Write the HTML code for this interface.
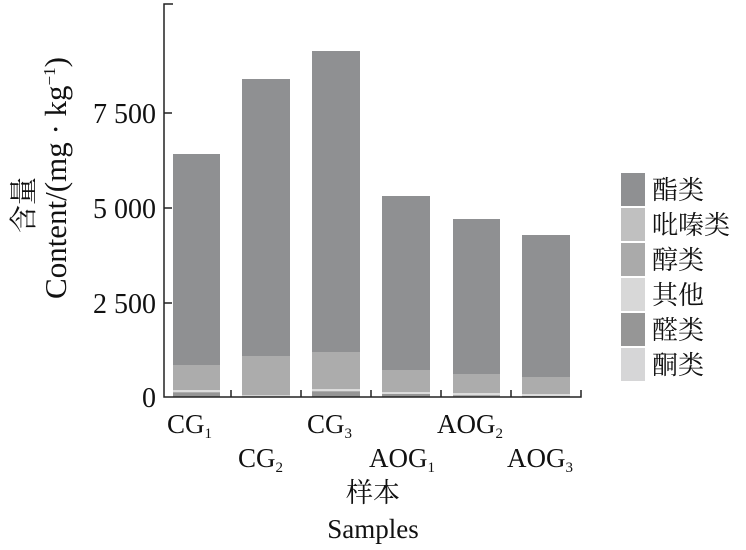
<!DOCTYPE html>
<html><head><meta charset="utf-8"><style>body{margin:0;background:#fff}svg{display:block}</style></head>
<body>
<svg width="746" height="550" xmlns="http://www.w3.org/2000/svg" font-family="Liberation Serif, Noto Serif CJK SC, serif">
<g>
<rect x="173" y="154" width="47" height="243" fill="#8f9092"/>
<rect x="173" y="365" width="47" height="32" fill="#acacac"/>
<rect x="173" y="390" width="47" height="2" fill="#dcdcdc"/>
<rect x="173" y="393" width="47" height="4" fill="#959595"/>

<rect x="242" y="79" width="48" height="318" fill="#8f9092"/>
<rect x="242" y="356" width="48" height="41" fill="#acacac"/>
<rect x="242" y="395" width="48" height="2" fill="#d5d5d5"/>

<rect x="312" y="51" width="48" height="346" fill="#8f9092"/>
<rect x="312" y="352" width="48" height="45" fill="#acacac"/>
<rect x="312" y="389" width="48" height="2" fill="#dcdcdc"/>
<rect x="312" y="392" width="48" height="5" fill="#959595"/>

<rect x="382" y="196" width="48" height="201" fill="#8f9092"/>
<rect x="382" y="370" width="48" height="27" fill="#acacac"/>
<rect x="382" y="392" width="48" height="2" fill="#dcdcdc"/>
<rect x="382" y="394" width="48" height="3" fill="#959595"/>

<rect x="453" y="219" width="47" height="178" fill="#8f9092"/>
<rect x="453" y="374" width="47" height="23" fill="#acacac"/>
<rect x="453" y="393" width="47" height="2" fill="#dcdcdc"/>

<rect x="522" y="235" width="48" height="162" fill="#8f9092"/>
<rect x="522" y="377" width="48" height="20" fill="#acacac"/>
<rect x="522" y="394" width="48" height="2" fill="#dcdcdc"/>

<g stroke="#222" stroke-width="1.5" fill="none">
<path d="M173 4H164V397H581V390"/>
<path d="M164 113h8M164 208h8M164 303h8"/>
<path d="M231 397v-7M301 397v-7M371 397v-7M441 397v-7M511 397v-7"/>
</g>
<g font-size="28" fill="#111" text-anchor="end">
<text x="156" y="123">7 500</text>
<text x="156" y="218">5 000</text>
<text x="156" y="313">2 500</text>
<text x="156" y="407">0</text>
</g>
<g font-size="27" fill="#111">
<text x="167" y="433">CG<tspan font-size="15" dy="5">1</tspan></text>
<text x="238" y="467">CG<tspan font-size="15" dy="5">2</tspan></text>
<text x="307" y="433">CG<tspan font-size="15" dy="5">3</tspan></text>
<text x="369" y="467">AOG<tspan font-size="15" dy="5">1</tspan></text>
<text x="437" y="433">AOG<tspan font-size="15" dy="5">2</tspan></text>
<text x="507" y="467">AOG<tspan font-size="15" dy="5">3</tspan></text>
<text x="373" y="502" text-anchor="middle">样本</text>
<text x="373" y="538" text-anchor="middle">Samples</text>
</g>
<g fill="#111">
<text transform="translate(33,205) rotate(-90)" text-anchor="middle" font-size="28">含量</text>
<text transform="translate(66,178) rotate(-90)" text-anchor="middle" font-size="31">Content/(mg · kg<tspan font-size="17" dy="-11">−1</tspan><tspan dy="11">)</tspan></text>
</g>
<rect x="621" y="173" width="24" height="33" fill="#8f9092"/>
<rect x="621" y="208" width="24" height="33" fill="#c0c0c0"/>
<rect x="621" y="243" width="24" height="33" fill="#aaaaaa"/>
<rect x="621" y="278" width="24" height="33" fill="#d8d8d8"/>
<rect x="621" y="313" width="24" height="33" fill="#969696"/>
<rect x="621" y="348" width="24" height="33" fill="#d6d6d7"/>
<g font-size="26" fill="#111">
<text x="652" y="199">酯类</text>
<text x="652" y="234">吡嗪类</text>
<text x="652" y="269">醇类</text>
<text x="652" y="304">其他</text>
<text x="652" y="339">醛类</text>
<text x="652" y="374">酮类</text>
</g>
</g>
</svg>
</body></html>
